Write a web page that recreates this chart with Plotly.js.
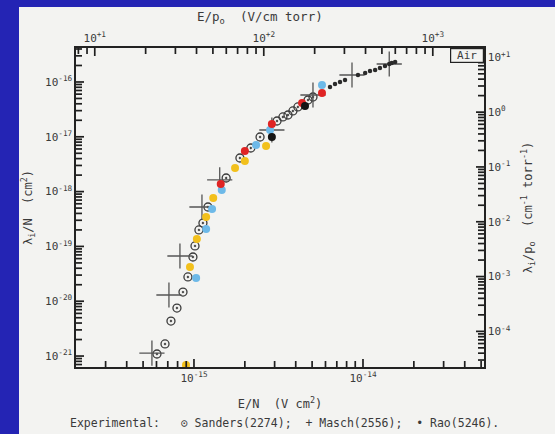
<!DOCTYPE html>
<html>
<head>
<meta charset="utf-8">
<script src="https://cdn.plot.ly/plotly-3.0.1.min.js"></script>
<style>
html,body{margin:0;padding:0;background:#2424b4;width:555px;height:434px;overflow:hidden;}
#chart{position:absolute;left:19px;top:7px;width:536px;height:427px;}
</style>
</head>
<body>
<div id="chart"></div>
<script>
// E/N (V cm^2) and lambda_i/N (cm^2) values
const sandersEN = [6.04e-16, 6.74e-16, 7.31e-16, 7.93e-16, 8.61e-16, 9.21e-16, 9.86e-16, 1.014e-15, 1.07e-15, 1.13e-15, 1.21e-15, 1.55e-15, 1.87e-15, 2.17e-15, 2.46e-15, 3.10e-15, 3.36e-15, 3.60e-15, 3.85e-15, 4.12e-15, 4.73e-15, 5.06e-15];
const sandersL  = [1.09e-21, 1.66e-21, 4.35e-21, 7.51e-21, 1.47e-20, 2.77e-20, 6.41e-20, 1.02e-19, 2.0e-19, 2.67e-19, 5.24e-19, 1.77e-18, 4.10e-18, 6.25e-18, 9.92e-18, 1.94e-17, 2.30e-17, 2.50e-17, 2.96e-17, 3.50e-17, 4.69e-17, 5.32e-17];

const maschEN = [5.64e-16, 7.11e-16, 8.26e-16, 1.115e-15, 1.42e-15, 2.89e-15, 5.06e-15, 8.61e-15, 1.43e-14];
const maschL  = [1.13e-21, 1.30e-20, 6.68e-20, 5.24e-19, 1.63e-18, 1.33e-17, 5.79e-17, 1.34e-16, 2.13e-16];

const raoEN = [6.38e-15, 6.83e-15, 7.31e-15, 7.83e-15, 9.34e-15, 1.03e-14, 1.10e-14, 1.18e-14, 1.26e-14, 1.35e-14, 1.43e-14, 1.48e-14, 1.55e-14];
const raoL  = [8.1e-17, 9.2e-17, 1.0e-16, 1.09e-16, 1.34e-16, 1.46e-16, 1.59e-16, 1.66e-16, 1.80e-16, 1.96e-16, 2.13e-16, 2.22e-16, 2.32e-16];

const yellowEN = [8.97e-16, 9.47e-16, 1.04e-15, 1.18e-15, 1.30e-15, 1.75e-15, 2.00e-15, 2.67e-15];
const yellowL  = [6.86e-22, 4.21e-20, 1.36e-19, 3.44e-19, 7.64e-19, 2.70e-18, 3.62e-18, 6.79e-18];

const blueEN = [1.03e-15, 1.18e-15, 1.28e-15, 1.46e-15, 2.33e-15, 2.82e-15, 5.72e-15];
const blueL  = [2.65e-20, 2.08e-19, 4.81e-19, 1.07e-18, 7.09e-18, 1.33e-17, 8.8e-17];

const redEN = [1.44e-15, 2.00e-15, 2.89e-15, 4.36e-15, 5.72e-15];
const redL  = [1.38e-18, 5.51e-18, 1.71e-17, 4.14e-17, 6.30e-17];

const blackEN = [2.89e-15, 4.54e-15];
const blackL  = [9.92e-18, 3.65e-17];

// tick labels
const xTickVals  = [1e-15, 1e-14];
const xTickText  = ['10<sup>-15</sup>', '10<sup>-14</sup>'];
const yTickVals  = [1e-21, 1e-20, 1e-19, 1e-18, 1e-17, 1e-16];
const yTickText  = ['10<sup>-21</sup>', '10<sup>-20</sup>', '10<sup>-19</sup>', '10<sup>-18</sup>', '10<sup>-17</sup>', '10<sup>-16</sup>'];
const x2TickVals = [10, 100, 1000];
const x2TickText = ['10<sup>+1</sup>', '10<sup>+2</sup>', '10<sup>+3</sup>'];
const y2TickVals = [1e-4, 1e-3, 1e-2, 1e-1, 1, 10];
const y2TickText = ['10<sup>-4</sup>', '10<sup>-3</sup>', '10<sup>-2</sup>', '10<sup>-1</sup>', '10<sup>0</sup>', '10<sup>+1</sup>'];
// decades spanned by each axis (for the 1..9 tick marks)
const xDecades  = [-16, -15, -14];
const x2Decades = [0, 1, 2, 3];
const yDecades  = [-22, -21, -20, -19, -18, -17, -16];
const y2Decades = [-5, -4, -3, -2, -1, 0, 1];

const ink = '#3a3a3a';
const MONO = 'DejaVu Sans Mono, Liberation Mono, monospace';
const F  = {family: MONO, size: 11, color: ink};
const FT = {family: MONO, size: 12, color: ink};

// conversion between N-normalised and p0-normalised scales (log10 N at 1 torr)
const logN0x = 16.587, logN0y = 16.55;
const xr = [-15.698, -13.284];
const yr = [-21.20, -15.38];

// tick marks drawn inward as pixel-length shapes: long at decades, short at 2..9
function tickShapes(decades, ref, side, lo, hi) {
  const out = [];
  decades.forEach(d => {
    for (let m = 1; m <= 9; m++) {
      const v = m * Math.pow(10, d);
      const lv = Math.log10(v);
      if (lv < lo || lv > hi) continue;
      const len = (m === 1) ? 8 : 6;
      const ln = {color: '#1e1e1e', width: 1.7};
      if (side === 'bottom' || side === 'top') {
        const s = side === 'bottom' ? 1 : -1;
        out.push({type: 'line', xref: ref, yref: 'paper', x0: v, x1: v,
                  ysizemode: 'pixel', yanchor: side === 'bottom' ? 0 : 1, y0: 0, y1: s * len, line: ln});
      } else {
        const s = side === 'left' ? 1 : -1;
        out.push({type: 'line', yref: ref, xref: 'paper', y0: v, y1: v,
                  xsizemode: 'pixel', xanchor: side === 'left' ? 0 : 1, x0: 0, x1: s * len, line: ln});
      }
    }
  });
  return out;
}

function pts(x, y, marker) {
  return {type: 'scatter', mode: 'markers', x: x, y: y, marker: marker, showlegend: false, hoverinfo: 'x+y', cliponaxis: true};
}

const traces = [
  pts(sandersEN, sandersL, {symbol: 'circle-open-dot', size: 8, color: '#3a3a3a', line: {width: 1.3, color: '#3a3a3a'}}),
  pts(maschEN, maschL, {symbol: 'cross-thin-open', size: 18, color: '#555', line: {width: 1.3, color: '#555'}}),
  pts(yellowEN, yellowL, {symbol: 'circle', size: 8, color: '#f2c01c'}),
  pts(blueEN, blueL, {symbol: 'circle', size: 8, color: '#6db9e8'}),
  pts(redEN, redL, {symbol: 'circle', size: 8, color: '#e02424'}),
  pts(blackEN, blackL, {symbol: 'circle', size: 8, color: '#151515'}),
  pts(raoEN, raoL, {symbol: 'circle', size: 4.5, color: '#2a2a2a'}),
  // invisible traces to anchor secondary axes
  {type: 'scatter', mode: 'markers', x: [100], y: [1e-16], xaxis: 'x2', yaxis: 'y', marker: {opacity: 0}, showlegend: false, hoverinfo: 'skip'},
  {type: 'scatter', mode: 'markers', x: [1e-15], y: [1], xaxis: 'x', yaxis: 'y2', marker: {opacity: 0}, showlegend: false, hoverinfo: 'skip'}
];

const axBase = {
  type: 'log', showgrid: false, zeroline: false,
  showline: true, linecolor: '#222', linewidth: 1.6,
  ticks: '', tickfont: F, tickmode: 'array'
};

const x2r = [xr[0] + logN0x, xr[1] + logN0x];
const y2r = [yr[0] + logN0y, yr[1] + logN0y];

const layout = {
  width: 536, height: 427,
  margin: {l: 57, r: 71, t: 41, b: 67},
  paper_bgcolor: '#f3f3f1',
  plot_bgcolor: 'rgba(0,0,0,0)',
  font: F,
  showlegend: false,
  xaxis: Object.assign({}, axBase, {
    range: xr, tickvals: xTickVals, ticktext: xTickText,
    title: {text: 'E/N  (V cm<sup>2</sup>)', font: FT, standoff: 16}
  }),
  xaxis2: Object.assign({}, axBase, {
    range: x2r, overlaying: 'x', side: 'top', anchor: 'y',
    tickvals: x2TickVals, ticktext: x2TickText
  }),
  yaxis: Object.assign({}, axBase, {
    range: yr, tickvals: yTickVals, ticktext: yTickText,
    title: {text: 'λ<sub>i</sub>/N  (cm<sup>2</sup>)', font: FT, standoff: 11}
  }),
  yaxis2: Object.assign({}, axBase, {
    range: y2r, overlaying: 'y', side: 'right', anchor: 'x',
    tickvals: y2TickVals, ticktext: y2TickText,
    title: {text: 'λ<sub>i</sub>/p<sub>o</sub>  (cm<sup>-1</sup> torr<sup>-1</sup>)', font: FT, standoff: 14}
  }),
  shapes: [].concat(
    tickShapes(xDecades, 'x', 'bottom', xr[0], xr[1]),
    tickShapes(x2Decades, 'x2', 'top', x2r[0], x2r[1]),
    tickShapes(yDecades, 'y', 'left', yr[0], yr[1]),
    tickShapes(y2Decades, 'y2', 'right', y2r[0], y2r[1])
  ),
  annotations: [
    {xref: 'paper', yref: 'paper', x: 0.45, y: 1.097, xanchor: 'center', yanchor: 'middle', showarrow: false,
     text: 'E/p<sub>o</sub>  (V/cm torr)', font: {family: MONO, size: 12.5, color: ink}},
    {xref: 'paper', yref: 'paper', x: 1, y: 1, xanchor: 'right', yanchor: 'top', text: 'Air',
     showarrow: false, font: F, bordercolor: '#222', borderwidth: 1.2, borderpad: 1, width: 30, height: 11, bgcolor: '#f3f3f1'},
    {xref: 'paper', yref: 'paper', x: 0.512, y: -0.175, xanchor: 'center', yanchor: 'middle', showarrow: false,
     text: 'Experimental:   ⊙ Sanders(2274);  + Masch(2556);  • Rao(5246).', font: {family: MONO, size: 11.5, color: ink}}
  ]
};

Plotly.newPlot('chart', traces, layout, {staticPlot: true, displayModeBar: false});
</script>
</body>
</html>
